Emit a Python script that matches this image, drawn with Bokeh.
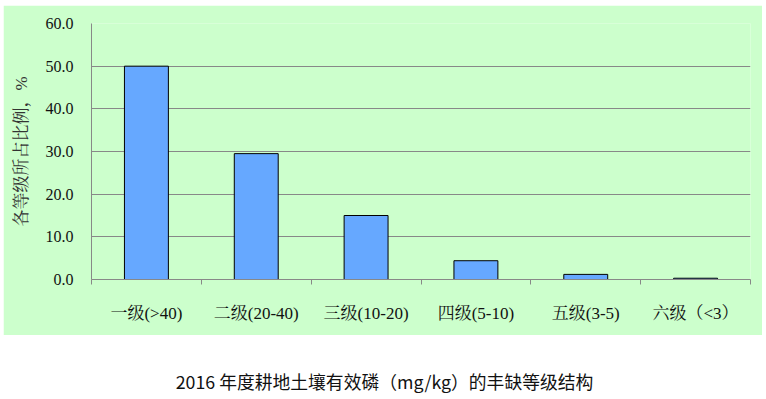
from bokeh.plotting import figure
from bokeh.models import FixedTicker, ColumnDataSource, Range1d, Label
from bokeh.layouts import column
from bokeh.embed import file_html
from bokeh.resources import INLINE

categories = ["一级(>40)", "二级(20-40)", "三级(10-20)", "四级(5-10)", "五级(3-5)", "六级（<3）"]
values = [50.0, 29.5, 15.0, 4.4, 1.2, 0.3]
y_ticks = [0, 10, 20, 30, 40, 50, 60]

GREEN = "#CCFFCC"
FONT = "Liberation Serif, Noto Serif CJK SC, Noto Sans CJK SC"

xs = [i + 0.5 for i in range(len(categories))]
src = ColumnDataSource(dict(x=xs, top=values))

p = figure(width=759, height=330, output_backend="svg", toolbar_location=None,
           x_range=Range1d(0, len(categories)), y_range=Range1d(0, 60),
           min_border_left=88, min_border_right=12, min_border_top=18, min_border_bottom=56)
p.background_fill_color = GREEN
p.border_fill_color = GREEN
p.outline_line_color = None

p.vbar(x="x", top="top", width=0.4, source=src, fill_color="#66A8FF",
       line_color="black", line_width=1)

p.xgrid.grid_line_color = None
p.ygrid.grid_line_color = "#888888"
p.ygrid.ticker = FixedTicker(ticks=y_ticks)

p.xaxis.ticker = FixedTicker(ticks=xs, minor_ticks=list(range(len(categories) + 1)))
p.xaxis.major_label_overrides = {x: c for x, c in zip(xs, categories)}
p.xaxis.major_tick_line_color = None
p.xaxis.major_tick_out = 0
p.xaxis.major_tick_in = 0
p.xaxis.minor_tick_out = 5
p.xaxis.minor_tick_in = 0
p.xaxis.minor_tick_line_color = "#888888"
p.xaxis.axis_line_color = "#888888"
p.xaxis.major_label_standoff = 19
p.xaxis.major_label_text_font = FONT
p.xaxis.major_label_text_font_size = "17px"
p.xaxis.major_label_text_color = "#111111"

p.yaxis.ticker = FixedTicker(ticks=y_ticks)
p.yaxis.major_label_overrides = {t: f"{t:.1f}" for t in y_ticks}
p.yaxis.major_tick_line_color = None
p.yaxis.minor_tick_line_color = None
p.yaxis.major_tick_out = 0
p.yaxis.axis_line_color = "#888888"
p.yaxis.major_label_standoff = 18
p.yaxis.major_label_text_font = FONT
p.yaxis.major_label_text_font_size = "16px"
p.yaxis.major_label_text_color = "#111111"
p.yaxis.axis_label = "各等级所占比例，%"
p.yaxis.axis_label_text_font = FONT
p.yaxis.axis_label_text_font_size = "17px"
p.yaxis.axis_label_text_font_style = "normal"
p.yaxis.axis_label_text_color = "#333333"
p.yaxis.axis_label_standoff = 12

t = figure(width=759, height=60, output_backend="svg", toolbar_location=None,
           x_range=Range1d(0, 1), y_range=Range1d(0, 1),
           min_border_left=88, min_border_right=12, min_border_top=0, min_border_bottom=0)
t.axis.visible = False
t.grid.visible = False
t.outline_line_color = None
t.background_fill_color = "white"
t.border_fill_color = "white"
t.add_layout(Label(x=(381 - 88) / 659, y=15, x_units="data", y_units="screen",
                   text="2016 年度耕地土壤有效磷（mg/kg）的丰缺等级结构",
                   text_align="center", text_baseline="middle",
                   text_font="Noto Sans CJK SC", text_font_size="17.8px",
                   text_color="#111111"))

layout = column(p, t, spacing=0, margin=(5, 0, 0, 3))
open("out.html", "w").write(file_html(layout, INLINE))
